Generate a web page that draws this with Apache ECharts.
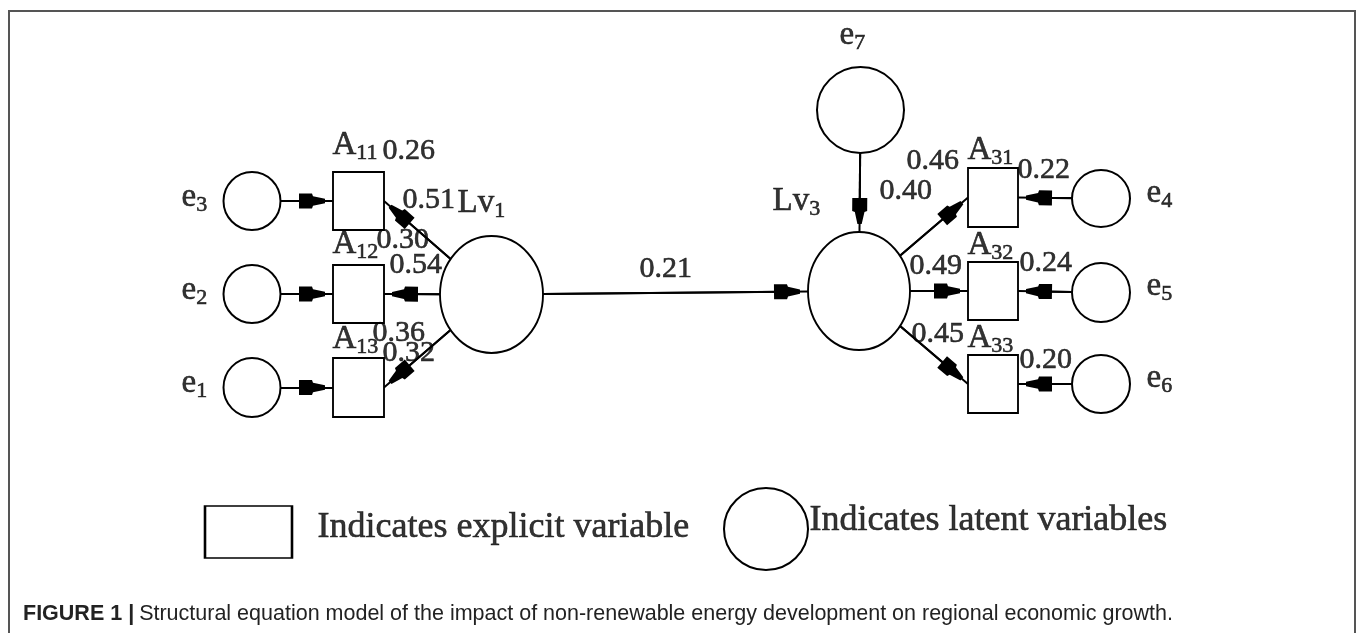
<!DOCTYPE html>
<html>
<head>
<meta charset="utf-8">
<script src="https://cdn.jsdelivr.net/npm/echarts@6/dist/echarts.min.js"></script>
<style>
html,body{margin:0;padding:0;background:#fff;overflow:hidden;}
#frame{position:absolute;left:8px;top:10px;width:1348px;height:700px;border:2px solid #555;box-sizing:border-box;}
#chart{position:absolute;left:0;top:0;width:1357px;height:633px;}
</style>
</head>
<body>
<div id="frame"></div>
<div id="chart"></div>
<script>
// ---------------- data ----------------
const nodeNames = ['e3','e2','e1','A11','A12','A13','Lv1','Lv3','e7','A31','A32','A33','e4','e5','e6'];
const nodeKinds = ['error','error','error','observed','observed','observed','latent','latent','error','observed','observed','observed','error','error','error'];
const edgeFrom  = ['e3','e2','e1','Lv1','Lv1','Lv1','Lv1','e7','Lv3','Lv3','Lv3','e4','e5','e6'];
const edgeTo    = ['A11','A12','A13','A11','A12','A13','Lv3','Lv3','A31','A32','A33','A31','A32','A33'];
const coefficients = [0.26, 0.51, 0.30, 0.54, 0.36, 0.32, 0.21, 0.46, 0.40, 0.22, 0.49, 0.24, 0.45, 0.20];
const legendKinds = ['observed','latent'];
const legendTexts = ['Indicates explicit variable','Indicates latent variables'];
const captionLead = 'FIGURE 1 |';
const captionText = 'Structural equation model of the impact of non-renewable energy development on regional economic growth.';

// ---------------- layout (positions / sizes, diagram units) ----------------
const nodeGeom = {
  e3:[252,201,57,58], e2:[252,294,57,58], e1:[252,387.5,57,59],
  A11:[358.5,201,51,58], A12:[358.5,294,51,58], A13:[358.5,387.5,51,59],
  Lv1:[491.5,294.5,103,117], Lv3:[859,291,102,118], e7:[860.5,110,87,86],
  A31:[993,197.5,50,59], A32:[993,291,50,58], A33:[993,384,50,58],
  e4:[1101,198.5,58,57], e5:[1101,292.5,58,59], e6:[1101,384,58,58]
};
const nameLabelPos = {
  e3:[182,198], e2:[182,291], e1:[182,384],
  A11:[333,146], A12:[333,245], A13:[333,340],
  Lv1:[458,204], Lv3:[773,202], e7:[840,36],
  A31:[968,151], A32:[968,246], A33:[968,339],
  e4:[1147,194], e5:[1147,287], e6:[1147,379]
};
const coefLabelPos = [[383,152],[403,201],[377,241],[390,266],[373,334],[383,354],[640,270],
                      [907,162],[880,192],[1018,171],[910,267],[1020,264],[912,335],[1020,361]];
const legendGeom = [[248.5,532,87,52],[766,529,84,82]];
const legendTextPos = [[318,528],[810,521]];

// ---------------- styles ----------------
const ELLIPSE = 'path://M0,50C0,22.4 22.4,0 50,0C77.6,0 100,22.4 100,50C100,77.6 77.6,100 50,100C22.4,100 0,77.6 0,50Z';
const ARROW = 'path://M5,0L9,0L11.5,12L14,13L14,26L0,26L0,13L2.5,12Z';
const SERIF = '"Liberation Serif","Times New Roman",serif';
const SANS = '"Liberation Sans",Arial,sans-serif';
const INK = '#000';
const inkBorder = {textBorderColor:'#000', textBorderWidth:0.6};

function symbolFor(kind){ return kind === 'observed' ? 'rect' : ELLIPSE; }

// boundary point of an ellipse node in the direction of (tx,ty)
function ellipseBoundary(g, tx, ty){
  const dx = tx - g[0], dy = ty - g[1];
  const t = 1 / Math.sqrt(Math.pow(dx/(g[2]/2),2) + Math.pow(dy/(g[3]/2),2));
  return [g[0] + dx*t, g[1] + dy*t];
}
function kindOf(n){ return nodeKinds[nodeNames.indexOf(n)]; }

const edgeFull = [], edgeHead = [];
edgeFrom.forEach(function(f, i){
  const t = edgeTo[i];
  const gs = nodeGeom[f], gt = nodeGeom[t];
  let end;
  if (kindOf(t) === 'observed') {
    end = [gs[0] < gt[0] ? gt[0] - gt[2]/2 : gt[0] + gt[2]/2, gt[1]];
  } else {
    end = ellipseBoundary(gt, gs[0], gs[1]);
  }
  const start = ellipseBoundary(gs, end[0], end[1]);
  const dx = end[0]-start[0], dy = end[1]-start[1];
  const L = Math.sqrt(dx*dx+dy*dy);
  const ux = dx/L, uy = dy/L;
  const back = 8 + 13;
  const p = [end[0]-ux*back, end[1]-uy*back];
  edgeFull.push({coords:[start,end]});
  edgeHead.push({coords:[start,p]});
});

const nodeData = nodeNames.map(function(n, i){
  const g = nodeGeom[n];
  return {name:n, value:[g[0],g[1]], symbol:symbolFor(nodeKinds[i]), symbolSize:[g[2],g[3]]};
});
const legendData = legendKinds.map(function(k, i){
  const g = legendGeom[i];
  return {name:legendTexts[i], value:[g[0],g[1]], symbol:symbolFor(k), symbolSize:[g[2],g[3]]};
});

function splitName(n){
  const m = n.match(/^([A-Za-z]+)(\d+)$/);
  return m ? [m[1], m[2]] : [n, ''];
}
const nameLabelData = nodeNames.map(function(n){
  const p = nameLabelPos[n];
  return {name:n, value:[p[0],p[1]]};
});
const coefLabelData = coefficients.map(function(c, i){
  return {name:c.toFixed(2), value:[coefLabelPos[i][0], coefLabelPos[i][1]]};
});
const legendTextData = legendTexts.map(function(t, i){
  return {name:t, value:[legendTextPos[i][0], legendTextPos[i][1]]};
});

const textPoint = {symbol:'circle', symbolSize:1, itemStyle:{color:'rgba(0,0,0,0)'}, z:10, silent:true};

const option = {
  animation:false,
  title:{
    left:18, top:598,
    text:'{b|' + captionLead + '} {r|' + captionText + '}',
    textStyle:{
      fontWeight:'normal',
      rich:{
        b:{fontFamily:SANS, fontSize:21.5, fontWeight:'bold', color:'#222'},
        r:{fontFamily:SANS, fontSize:21.5, fontWeight:'normal', color:'#222'}
      }
    }
  },
  grid:{left:0, right:0, top:0, bottom:0, containLabel:false},
  xAxis:{type:'value', min:0, max:1357, show:false},
  yAxis:{type:'value', min:0, max:633, inverse:true, show:false},
  series:[
    {type:'lines', coordinateSystem:'cartesian2d', z:2, silent:true,
     symbol:['none','none'], lineStyle:{color:'#000', width:2, opacity:1}, data:edgeFull},
    {type:'lines', coordinateSystem:'cartesian2d', z:3, silent:true,
     symbol:['none', ARROW], symbolSize:[1,[15,26]], lineStyle:{color:'#000', width:2, opacity:1}, data:edgeHead},
    {type:'scatter', z:5, silent:true, data:nodeData.concat(legendData),
     itemStyle:{color:'#fff', borderColor:'#000', borderWidth:2, opacity:1}},
    Object.assign({type:'scatter', data:nameLabelData,
     label:{show:true, position:[0,0], align:'left', verticalAlign:'middle',
       formatter:function(p){ const s = splitName(p.name); return '{m|'+s[0]+'}{s|'+s[1]+'}'; },
       rich:{
         m:Object.assign({fontFamily:SERIF, fontSize:33, lineHeight:36, color:INK}, inkBorder),
         s:Object.assign({fontFamily:SERIF, fontSize:22, lineHeight:20, padding:[16,0,0,0], color:INK}, inkBorder)
       }}}, textPoint),
    Object.assign({type:'scatter', data:coefLabelData,
     label:Object.assign({show:true, position:[0,0], align:'left', verticalAlign:'middle',
       formatter:'{b}', fontFamily:SERIF, fontSize:30, color:INK}, inkBorder)}, textPoint),
    Object.assign({type:'scatter', data:legendTextData,
     label:Object.assign({show:true, position:[0,0], align:'left', verticalAlign:'middle',
       formatter:'{b}', fontFamily:SERIF, fontSize:36, color:INK}, inkBorder)}, textPoint)
  ]
};
const chart = echarts.init(document.getElementById('chart'), null, {renderer:'canvas'});
chart.setOption(option);
</script>
</body>
</html>
